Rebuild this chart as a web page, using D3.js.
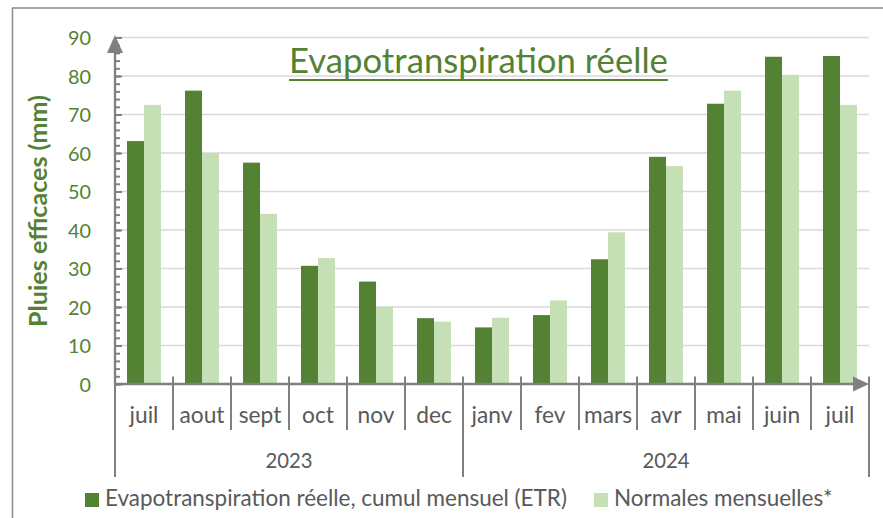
<!DOCTYPE html>
<html>
<head>
<meta charset="utf-8">
<script src="https://cdn.jsdelivr.net/npm/d3@7"></script>
<style>
  body { margin: 0; background: #fff; }
  svg { display: block; }
  text { font-family: Lato, "Open Sans", sans-serif; }
</style>
</head>
<body>
<script>
// ---- data ----
const months = ["juil","aout","sept","oct","nov","dec","janv","fev","mars","avr","mai","juin","juil"];
const monthYears = ["2023","2023","2023","2023","2023","2023","2024","2024","2024","2024","2024","2024","2024"];
const etr = [63.1, 76.2, 57.5, 30.7, 26.6, 17.1, 14.7, 17.9, 32.4, 59.0, 72.8, 85.0, 85.2];
const normales = [72.5, 60.0, 44.2, 32.7, 20.1, 16.2, 17.2, 21.7, 39.4, 56.6, 76.2, 80.3, 72.5];
const seriesNames = ["Evapotranspiration réelle, cumul mensuel (ETR)", "Normales mensuelles*"];
const yTicks = [0,10,20,30,40,50,60,70,80,90];
const titleText = "Evapotranspiration réelle";
const yTitle = "Pluies efficaces (mm)";

const colors = ["#548235", "#C5E0B4"];
const green = "#548235";
const gray = "#595959";
const axisGray = "#808080";

const W = 883, H = 518;
const svg = d3.select("body").append("svg").attr("width", W).attr("height", H);

// font fitting helper
function fitSize(str, weight, target) {
  const t = svg.append("text").attr("font-size", 100).attr("font-weight", weight).text(str);
  const w = t.node().getComputedTextLength();
  t.remove();
  return 100 * target / w;
}

// outer border
svg.append("rect").attr("x", 12.5).attr("y", 8).attr("width", 900).attr("height", 600)
  .attr("fill", "none").attr("stroke", "#8c8c8c").attr("stroke-width", 1.5);

// scales
const idx = d3.range(months.length);
const x = d3.scaleBand().domain(idx).range([115, 869]).padding(0);
const x1 = d3.scaleBand().domain([0, 1]).range([12, 46]);
const y = d3.scaleLinear().domain([0, 90]).range([384, 37.5]);

// gridlines
svg.append("g").selectAll("line").data(yTicks.filter(d => d > 0)).join("line")
  .attr("x1", 115).attr("x2", 869)
  .attr("y1", d => y(d)).attr("y2", d => y(d))
  .attr("stroke", "#d9d9d9").attr("stroke-width", 1.5);

// bars
const groups = svg.append("g").selectAll("g").data(idx).join("g")
  .attr("transform", i => `translate(${x(i)},0)`);
groups.selectAll("rect").data(i => [etr[i], normales[i]]).join("rect")
  .attr("x", (d, j) => x1(j)).attr("width", x1.bandwidth())
  .attr("y", d => y(d)).attr("height", d => y(0) - y(d))
  .attr("fill", (d, j) => colors[j]);

// y axis: minor ticks
svg.append("g").attr("transform", "translate(115,0)")
  .call(d3.axisLeft(y).tickValues(d3.range(0, 91, 2)).tickSize(-5).tickFormat(""))
  .call(g => g.select(".domain").remove())
  .call(g => g.selectAll("line").attr("stroke", axisGray).attr("stroke-width", 2));

// y axis: major ticks + labels
const yFs = fitSize("70", 400, 23);
svg.append("g").attr("transform", "translate(115,0)")
  .call(d3.axisLeft(y).tickValues(yTicks).tickSize(-7).tickPadding(24).tickFormat(d3.format("d")))
  .call(g => g.select(".domain").remove())
  .call(g => g.selectAll("line").attr("stroke", axisGray).attr("stroke-width", 2))
  .call(g => g.selectAll("text").attr("fill", green).attr("font-size", yFs)
      .attr("font-family", "Lato, sans-serif").attr("dy", "0.36em"));

// y axis line + arrow
svg.append("line").attr("x1", 115).attr("x2", 115).attr("y1", y(0)).attr("y2", 50)
  .attr("stroke", axisGray).attr("stroke-width", 2.3);
svg.append("path").attr("d", "M107,53 L115,35 L123,53 Z").attr("fill", axisGray);

// x axis line + arrow
svg.append("line").attr("x1", 115).attr("x2", 856).attr("y1", y(0)).attr("y2", y(0))
  .attr("stroke", axisGray).attr("stroke-width", 2.3);
svg.append("path").attr("d", "M853,376.5 L869,384 L853,391.5 Z").attr("fill", axisGray);

// month labels via axis
const mFs = fitSize("mars", 400, 48);
svg.append("g").attr("transform", `translate(0,${y(0)})`)
  .call(d3.axisBottom(x).tickSize(0).tickFormat(i => months[i]))
  .call(g => g.select(".domain").remove())
  .call(g => g.selectAll("text").attr("fill", gray).attr("font-size", mFs)
      .attr("font-family", "Lato, sans-serif").attr("dy", null).attr("y", 39));

// dividers between months
const boundaries = d3.range(months.length + 1);
const isYearBoundary = b => b === 0 || b === months.length || monthYears[b] !== monthYears[b - 1];
svg.append("g").selectAll("line").data(boundaries).join("line")
  .attr("x1", b => b < months.length ? x(b) : x.range()[1])
  .attr("x2", b => b < months.length ? x(b) : x.range()[1])
  .attr("y1", b => b === 0 ? y(0) : 376.5)
  .attr("y2", b => isYearBoundary(b) ? 477 : 430)
  .attr("stroke", axisGray).attr("stroke-width", 2);

// year labels
const years = Array.from(new Set(monthYears));
const yrFs = fitSize("2023", 400, 47);
svg.append("g").selectAll("text").data(years).join("text")
  .attr("x", yr => {
    const ids = idx.filter(i => monthYears[i] === yr);
    return (x(ids[0]) + x(ids[ids.length - 1]) + x.bandwidth()) / 2;
  })
  .attr("y", 468).attr("text-anchor", "middle")
  .attr("font-size", yrFs).attr("fill", gray).text(d => d);

// title
const tFs = fitSize(titleText, 400, 379);
const title = svg.append("text").attr("x", 478.5).attr("y", 73).attr("text-anchor", "middle")
  .attr("font-size", tFs).attr("fill", green).text(titleText);
const tb = title.node().getBBox();
svg.append("line").attr("x1", tb.x).attr("x2", tb.x + tb.width).attr("y1", 80).attr("y2", 80)
  .attr("stroke", green).attr("stroke-width", 2);

// y title
const ytFs = fitSize(yTitle, 700, 232);
svg.append("text").attr("transform", "translate(47,211) rotate(-90)")
  .attr("text-anchor", "middle").attr("font-weight", 700).attr("font-size", ytFs)
  .attr("fill", green).text(yTitle);

// legend
const legX = [85, 594];
const legTargets = [462, 219];
const lFs = fitSize(seriesNames[0], 400, legTargets[0]);
const leg = svg.append("g").selectAll("g").data(seriesNames).join("g")
  .attr("transform", (d, i) => `translate(${legX[i]},493)`);
leg.append("rect").attr("width", 14).attr("height", 14).attr("fill", (d, i) => colors[i]);
leg.append("text").attr("x", 20).attr("y", 13).attr("font-size", lFs).attr("fill", gray).text(d => d);
</script>
</body>
</html>
